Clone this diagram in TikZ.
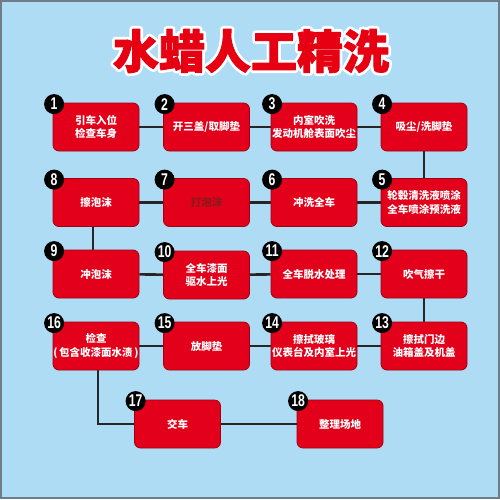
\documentclass[tikz,border=0pt]{standalone}
\usepackage{graphicx}
\usepackage{fontspec}
\setmainfont{Noto Sans CJK SC}
\newfontfamily\numfont{Liberation Sans}
\newfontfamily\titleglow{Noto Sans CJK SC}[FakeBold=14]
\newfontfamily\titlemain{Noto Sans CJK SC}[FakeBold=2]
\usetikzlibrary{calc,backgrounds}
\definecolor{bg}{HTML}{ADDCF4}
\definecolor{boxred}{HTML}{E2001A}
\definecolor{boxedge}{HTML}{A00010}
\definecolor{titlered}{HTML}{E60012}
\definecolor{dimtext}{HTML}{8B1A1A}
\definecolor{frame}{HTML}{6E7E88}
\tikzset{
  x=1pt, y=-1pt,
  stepbox/.style={rectangle, rounded corners=6pt, fill=boxred, draw=boxedge,
    line width=0.8pt, minimum width=86pt, minimum height=48pt, text=white,
    font=\bfseries\fontsize{10.5}{13.5}\selectfont, align=center, inner sep=0pt},
  numdot/.style={circle, fill=black, minimum size=20pt, inner sep=0pt, text=white,
    font=\numfont\bfseries\fontsize{17}{17}\selectfont},
  link/.style={line width=2.6pt, draw=black!85},
}
\newcommand{\stepnum}[2]{\node[numdot] (c#1) at ([xshift=1.5pt,yshift=-1.5pt]#2.north west) {\scalebox{0.72}[1]{#1}};}
\begin{document}
\begin{tikzpicture}
\useasboundingbox (0,0) rectangle (500,499);
% title
\node[font=\titleglow\bfseries\fontsize{46}{46}\selectfont, text=white] (titleglow) at (251,51) {\special{pdf:literal direct 1 j}水蜡人工精洗};
\node[font=\titlemain\bfseries\fontsize{46}{46}\selectfont, text=titlered] (title) at (251,51) {\special{pdf:literal direct 1 j}水蜡人工精洗};

% row 1
\node[stepbox] (n1) at (96,127) {引车入位\\检查车身};
\node[stepbox] (n2) at (206.5,127) {开三盖/取脚垫};
\node[stepbox] (n3) at (314,127) {内室吹洗\\发动机舱表面吹尘};
\node[stepbox] (n4) at (424,127) {吸尘/洗脚垫};
% row 2
\node[stepbox] (n8) at (96,202.5) {擦泡沫};
\node[stepbox, text=dimtext] (n7) at (206.5,202.5) {打泡沫};
\node[stepbox] (n6) at (314,202.5) {冲洗全车};
\node[stepbox] (n5) at (424,202.5) {轮毂清洗液喷涂\\全车喷涂预洗液};
% row 3
\node[stepbox] (n9) at (96,274) {冲泡沫};
\node[stepbox] (n10) at (206.5,275) {全车漆面\\驱水上光};
\node[stepbox] (n11) at (314,274) {全车脱水处理};
\node[stepbox] (n12) at (424,274) {吹气擦干};
% row 4
\node[stepbox] (n16) at (96,346) {检查\\(\,包含收漆面水渍\,)};
\node[stepbox] (n15) at (206.5,346) {放脚垫};
\node[stepbox] (n14) at (314,346) {擦拭玻璃\\仪表台及内室上光};
\node[stepbox] (n13) at (424,346) {擦拭门边\\油箱盖及机盖};
% row 5
\node[stepbox] (n17) at (177.5,424) {交车};
\node[stepbox] (n18) at (340,424) {整理场地};

\stepnum{1}{n1}\stepnum{2}{n2}\stepnum{3}{n3}\stepnum{4}{n4}
\stepnum{5}{n5}\stepnum{6}{n6}\stepnum{7}{n7}\stepnum{8}{n8}
\stepnum{9}{n9}\stepnum{10}{n10}\stepnum{11}{n11}\stepnum{12}{n12}
\stepnum{13}{n13}\stepnum{14}{n14}\stepnum{15}{n15}\stepnum{16}{n16}
\stepnum{17}{n17}\stepnum{18}{n18}

\begin{scope}[on background layer]
  \fill[bg] (0,0) rectangle (500,499);
  \draw[frame, line width=1.6pt] (0.8,0.8) rectangle (499.2,498.2);
  \draw[link] (n1) -- (n2);
  \draw[link] (n2) -- (n3);
  \draw[link] (n3) -- (n4);
  \draw[link] (n4) -- (n5);
  \draw[link] (n5) -- (n6);
  \draw[link] (n6) -- (n7);
  \draw[link] (n7) -- (n8);
  \draw[link] ([xshift=-3pt]n8.south) -- ([xshift=-3pt]n9.north);
  \draw[link] (n9) -- (n10);
  \draw[link] (n10) -- (n11);
  \draw[link] (n11) -- (n12);
  \draw[link] (n12) -- (n13);
  \draw[link] (n13) -- (n14);
  \draw[link] (n14) -- (n15);
  \draw[link] (n15) -- (n16);
  \draw[link] ([xshift=2pt]n16.south) |- (n17.west);
  \draw[link] (n17) -- (n18);
\end{scope}
\end{tikzpicture}
\end{document}
